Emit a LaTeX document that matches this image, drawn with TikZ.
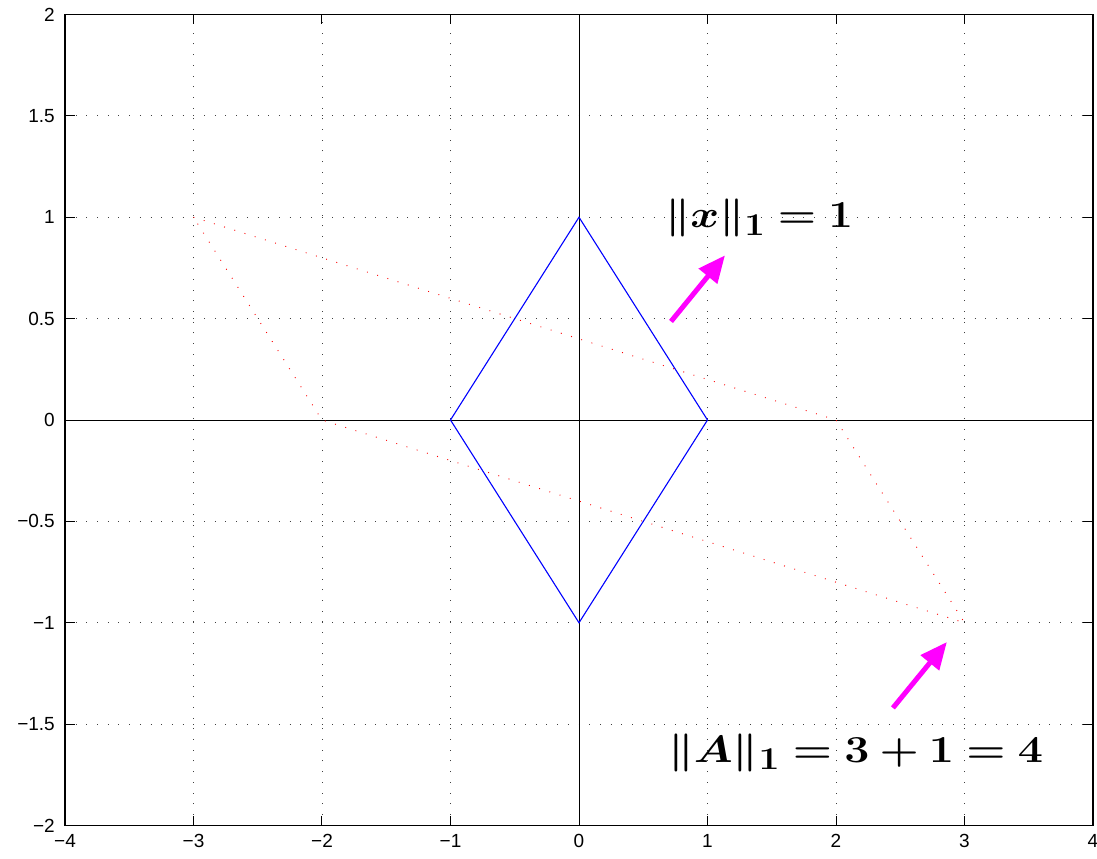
\documentclass[tikz,border=0pt]{standalone}
\usepackage{fontspec}
\setsansfont{Liberation Sans}
\usepackage{bm}
\usepackage{graphicx}
\usetikzlibrary{arrows.meta}
\definecolor{mag}{RGB}{255,0,255}
\begin{document}
\begin{tikzpicture}[x=128.5pt,y=202.75pt,
  gridline/.style={line width=0.9pt,dash pattern=on 0.9pt off 9.8pt,black!75},
  ticklab/.style={font=\sffamily\fontsize{19}{20}\selectfont,inner sep=0pt},
  redline/.style={red,line width=0.9pt,dash pattern=on 0.9pt off 9.8pt},
  blueline/.style={blue,line width=1.1pt},
  marrow/.style={mag,line width=5pt,-{Triangle[length=27pt,width=23pt]}},
  mlabel/.style={inner sep=0pt,font=\fontsize{24.88}{30}\selectfont}]
\useasboundingbox (-4.5058,-2.1603) rectangle (4.0311,2.0715);
% grid
\foreach \gx in {-3,-2,-1,1,2,3} \draw[gridline] (\gx,-2) -- (\gx,2);
\foreach \gy in {-1.5,-1,-0.5,0.5,1,1.5} \draw[gridline] (-4,\gy) -- (4,\gy);
% axes lines
\draw[black,line width=0.9pt] (-4,0) -- (4,0);
\draw[black,line width=0.9pt] (0,-2) -- (0,2);
% red parallelogram
\coordinate (r1) at (-3,1);
\coordinate (r2) at (2,0);
\coordinate (r3) at (3,-1);
\coordinate (r4) at (-2,0);
\draw[redline] (r1) -- (r2) -- (r3) -- (r4) -- cycle;
% blue diamond
\coordinate (b1) at (-1,0);
\coordinate (b2) at (0,1);
\coordinate (b3) at (1,0);
\coordinate (b4) at (0,-1);
\draw[blueline] (b1) -- (b2) -- (b3) -- (b4) -- cycle;
% box
\draw[black,line width=1.2pt] (-4,-2) rectangle (4,2);
% ticks
\foreach \gx in {-4,...,4} {
  \draw[black,line width=1pt] (\gx,-2) -- ++(0,10pt);
  \draw[black,line width=1pt] (\gx,2) -- ++(0,-10pt);
}
\foreach \gy in {-2,-1.5,...,2} {
  \draw[black,line width=1pt] (-4,\gy) -- ++(10pt,0);
  \draw[black,line width=1pt] (4,\gy) -- ++(-10pt,0);
}
% tick labels
\foreach \gx/\lab [count=\i] in {-4/−4,-3/−3,-2/−2,-1/−1,0/0,1/1,2/2,3/3,4/4}
  \node[ticklab,anchor=north] (xl\i) at ([yshift=-9pt]\gx,-2) {\lab};
\foreach \gy/\lab [count=\i] in {-2/−2,-1.5/−1.5,-1/−1,-0.5/−0.5,0/0,0.5/0.5,1/1,1.5/1.5,2/2}
  \node[ticklab,anchor=east] (yl\i) at ([xshift=-10pt]-4,\gy) {\lab};
% arrows
\coordinate (a1s) at (0.716,0.486);
\coordinate (a1e) at (1.136,0.812);
\coordinate (a2s) at (2.443,-1.420);
\coordinate (a2e) at (2.863,-1.095);
\draw[marrow] (a1s) -- (a1e);
\draw[marrow] (a2s) -- (a2e);
% labels
\node[mlabel,anchor=base west] (lx) at (0.669,0.947) {\scalebox{1.76}[1.53]{$\bm{\Vert x\Vert_1=1}$}};
\node[mlabel,anchor=base west] (lA) at (0.692,-1.687) {\scalebox{1.80}[1.53]{$\bm{\Vert A\Vert_1=3+1=4}$}};
\end{tikzpicture}
\end{document}
